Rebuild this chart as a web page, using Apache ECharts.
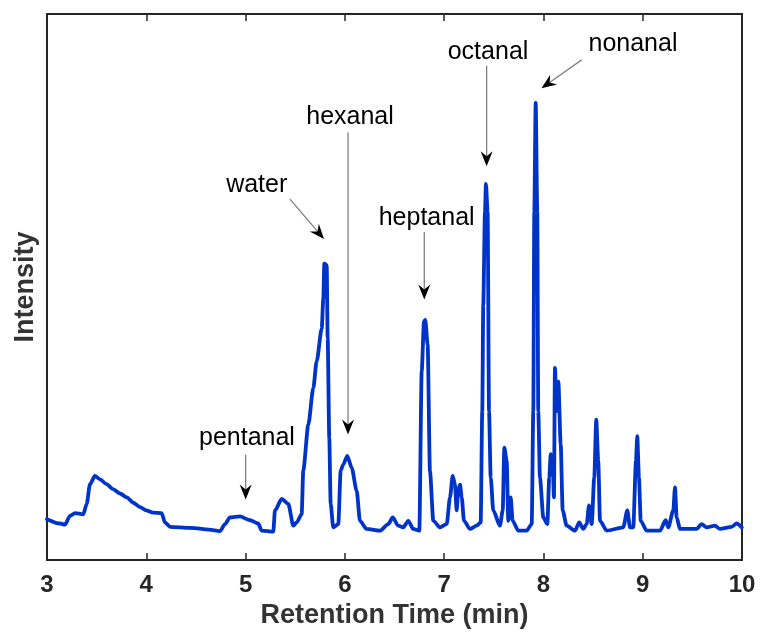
<!DOCTYPE html>
<html>
<head>
<meta charset="utf-8">
<title>Chromatogram</title>
<script src="https://cdn.jsdelivr.net/npm/echarts@6/dist/echarts.min.js"></script>
<style>
  html, body { margin: 0; padding: 0; background: #fff; }
  #chart { width: 760px; height: 634px; }
</style>
</head>
<body>
<div id="chart"></div>
<script>
// Retention time (min) and detector intensity (arbitrary units)
const times = [
  3.000, 3.131, 3.181, 3.232, 3.282, 3.366, 3.400, 3.433, 3.483, 3.534,
  3.600, 3.665, 3.735, 3.803, 3.870, 3.937, 4.000, 4.068, 4.155, 4.188,
  4.239, 4.440, 4.672, 4.742, 4.793, 4.843, 4.944, 5.045, 5.128, 5.162,
  5.279, 5.296, 5.364, 5.430, 5.481, 5.515, 5.565, 5.581, 5.632, 5.682,
  5.716, 5.767, 5.783, 5.793, 5.817, 5.827, 5.843, 5.857, 5.883, 5.934,
  5.958, 5.984, 6.024, 6.069, 6.119, 6.152, 6.220, 6.354, 6.437, 6.482,
  6.538, 6.589, 6.639, 6.689, 6.750, 6.774, 6.797, 6.810, 6.834, 6.857,
  6.891, 6.958, 7.026, 7.059, 7.086, 7.109, 7.126, 7.142, 7.160, 7.177,
  7.200, 7.260, 7.328, 7.368, 7.384, 7.394, 7.411, 7.421, 7.438, 7.452,
  7.469, 7.495, 7.562, 7.590, 7.606, 7.630, 7.646, 7.670, 7.690, 7.747,
  7.831, 7.882, 7.898, 7.908, 7.922, 7.938, 7.948, 7.965, 7.999, 8.039,
  8.059, 8.073, 8.093, 8.106, 8.116, 8.133, 8.150, 8.174, 8.194, 8.234,
  8.318, 8.361, 8.401, 8.436, 8.459, 8.486, 8.512, 8.532, 8.552, 8.570,
  8.637, 8.804, 8.845, 8.872, 8.905, 8.932, 8.945, 8.962, 8.980, 9.040,
  9.174, 9.231, 9.257, 9.308, 9.325, 9.342, 9.375, 9.543, 9.593, 9.644,
  9.728, 9.778, 9.896, 9.946, 9.997
];
const intensity = [
  7.5, 6.7, 6.5, 8.1, 8.6, 8.4, 10.3, 13.9, 15.4, 14.8,
  13.9, 13.0, 12.2, 11.5, 10.5, 9.7, 9.1, 8.7, 8.6, 6.9,
  6.1, 5.9, 5.5, 5.3, 6.6, 7.8, 8.0, 7.3, 6.7, 5.4,
  5.2, 9.1, 11.2, 10.3, 6.3, 6.9, 8.4, 16.4, 24.8, 31.5,
  36.4, 42.4, 47.9, 54.3, 54.0, 40.6, 22.4, 10.3, 6.0, 6.6,
  16.4, 17.5, 19.1, 16.9, 12.7, 7.2, 5.7, 5.4, 6.6, 7.8,
  6.3, 6.0, 7.2, 5.7, 5.4, 34.6, 43.7, 44.0, 39.4, 16.3,
  7.2, 6.0, 6.6, 11.5, 15.4, 13.9, 9.1, 12.7, 13.8, 11.5,
  7.2, 5.7, 6.3, 6.9, 27.3, 46.7, 63.7, 68.9, 63.7, 27.3,
  15.1, 9.1, 6.3, 9.1, 20.6, 18.2, 7.2, 11.5, 7.2, 5.4,
  5.4, 6.6, 27.3, 63.8, 83.7, 63.8, 27.3, 15.1, 7.8, 6.6,
  15.1, 19.4, 18.2, 11.5, 35.2, 27.3, 32.7, 21.2, 9.1, 6.3,
  5.4, 6.9, 5.7, 6.6, 10.0, 6.6, 15.1, 25.7, 18.2, 7.2,
  5.4, 6.0, 9.1, 6.0, 6.0, 18.2, 22.7, 15.1, 7.2, 5.4,
  5.4, 7.3, 6.0, 9.1, 13.3, 7.8, 5.7, 5.7, 6.6, 6.0,
  6.3, 5.7, 6.1, 6.7, 6.0
];

// Peak annotations: name, label anchor, arrow start and arrow tip (time, intensity)
const annoNames = ['pentanal', 'water', 'hexanal', 'heptanal', 'octanal', 'nonanal'];
const annoLabel = [[5.014, 22.4], [5.112, 68.7], [6.052, 81.1], [6.824, 62.7], [7.442, 93.1], [8.902, 94.4]];
const annoFrom  = [[5.001, 19.3], [5.447, 66.1], [6.032, 78.3], [6.800, 60.1], [7.428, 90.5], [8.385, 91.6]];
const annoTo    = [[5.001, 11.1], [5.790, 58.8], [6.032, 23.0], [6.800, 47.7], [7.428, 72.1], [7.980, 86.4]];

const xTicks = { min: 3, max: 10, step: 1 };

const FONT = "'Liberation Sans', Arial, Helvetica, sans-serif";
const AXIS_COLOR = '#262626';

const chart = echarts.init(document.getElementById('chart'), null, { renderer: 'canvas' });

const lineData = times.map((t, i) => [t, intensity[i]]);
const annoData = annoNames.map((n, i) => [
  annoLabel[i][0], annoLabel[i][1],
  annoFrom[i][0], annoFrom[i][1],
  annoTo[i][0], annoTo[i][1]
]);

// Draws one callout: thin leader line, filled arrowhead at the tip, and the peak name
function renderAnnotation(params, api) {
  const i = params.dataIndex;
  const label = api.coord([api.value(0), api.value(1)]);
  const p0 = api.coord([api.value(2), api.value(3)]);
  const p1 = api.coord([api.value(4), api.value(5)]);
  const dx = p1[0] - p0[0], dy = p1[1] - p0[1];
  const len = Math.sqrt(dx * dx + dy * dy);
  const ux = dx / len, uy = dy / len;
  const nx = -uy, ny = ux;
  const headLen = 15, headHalf = 6, notch = 5;
  const base = [p1[0] - ux * headLen, p1[1] - uy * headLen];
  const inner = [p1[0] - ux * (headLen - notch), p1[1] - uy * (headLen - notch)];
  return {
    type: 'group',
    children: [
      {
        type: 'line',
        shape: { x1: p0[0], y1: p0[1], x2: inner[0], y2: inner[1] },
        style: { stroke: '#7f7f7f', lineWidth: 1.3 }
      },
      {
        type: 'polygon',
        shape: {
          points: [
            [p1[0], p1[1]],
            [base[0] + nx * headHalf, base[1] + ny * headHalf],
            inner,
            [base[0] - nx * headHalf, base[1] - ny * headHalf]
          ]
        },
        style: { fill: '#000' }
      },
      {
        type: 'text',
        x: label[0],
        y: label[1],
        style: {
          text: annoNames[i],
          fill: '#000',
          font: '25px ' + FONT,
          align: 'center',
          verticalAlign: 'middle'
        }
      }
    ]
  };
}

const option = {
  animation: false,
  backgroundColor: '#fff',
  grid: { left: 47, top: 14, right: 18, bottom: 71, containLabel: false },
  xAxis: [
    {
      type: 'value',
      position: 'bottom',
      min: xTicks.min,
      max: xTicks.max,
      interval: xTicks.step,
      name: 'Retention Time (min)',
      nameLocation: 'middle',
      nameGap: 38,
      nameTextStyle: { fontFamily: FONT, fontWeight: 'bold', fontSize: 27, color: '#333' },
      axisLine: { show: true, onZero: false, lineStyle: { color: AXIS_COLOR, width: 2 } },
      axisTick: { show: true, inside: true, length: 7, lineStyle: { color: AXIS_COLOR, width: 1.5 } },
      axisLabel: { show: true, margin: 13, fontFamily: FONT, fontWeight: 'bold', fontSize: 24, color: '#262626' },
      splitLine: { show: false }
    },
    {
      type: 'value',
      position: 'top',
      min: xTicks.min,
      max: xTicks.max,
      interval: xTicks.step,
      axisLine: { show: true, onZero: false, lineStyle: { color: AXIS_COLOR, width: 2 } },
      axisTick: { show: true, inside: true, length: 7, lineStyle: { color: AXIS_COLOR, width: 1.5 } },
      axisLabel: { show: false },
      splitLine: { show: false }
    }
  ],
  yAxis: [
    {
      type: 'value',
      position: 'left',
      min: 0,
      max: 100,
      name: 'Intensity',
      nameLocation: 'middle',
      nameGap: 8,
      nameRotate: 90,
      nameTextStyle: { fontFamily: FONT, fontWeight: 'bold', fontSize: 27, color: '#333' },
      axisLine: { show: true, onZero: false, lineStyle: { color: AXIS_COLOR, width: 2 } },
      axisTick: { show: false },
      axisLabel: { show: false },
      splitLine: { show: false }
    },
    {
      type: 'value',
      position: 'right',
      min: 0,
      max: 100,
      axisLine: { show: true, onZero: false, lineStyle: { color: AXIS_COLOR, width: 2 } },
      axisTick: { show: false },
      axisLabel: { show: false },
      splitLine: { show: false }
    }
  ],
  series: [
    {
      type: 'line',
      data: lineData,
      xAxisIndex: 0,
      yAxisIndex: 0,
      showSymbol: false,
      symbol: 'none',
      smooth: 0.25,
      smoothMonotone: 'x',
      lineStyle: { color: '#0033c8', width: 3.8, join: 'round', cap: 'round' },
      z: 3
    },
    {
      type: 'custom',
      xAxisIndex: 0,
      yAxisIndex: 0,
      data: annoData,
      encode: { x: [0, 2, 4], y: [1, 3, 5] },
      renderItem: renderAnnotation,
      clip: false,
      silent: true,
      z: 4
    }
  ]
};

chart.setOption(option);
</script>
</body>
</html>
